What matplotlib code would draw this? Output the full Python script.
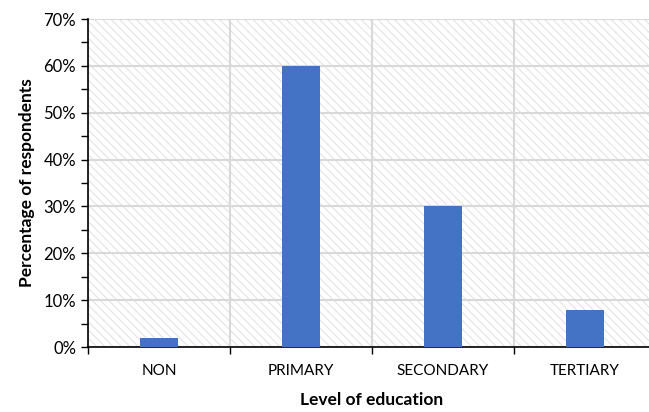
import matplotlib.pyplot as plt
from matplotlib.patches import Rectangle
from matplotlib.ticker import MultipleLocator, PercentFormatter

categories = ["NON", "PRIMARY", "SECONDARY", "TERTIARY"]
percent = [2, 60, 30, 8]

plt.rcParams['font.family'] = ['Lato', 'DejaVu Sans']
plt.rcParams['hatch.linewidth'] = 0.7

fig = plt.figure(figsize=(6.49, 4.12), dpi=100)
ax = fig.add_axes([88/649, 65/412, 568/649, 328/412])

# hatched background like the Excel chart area
bg = Rectangle((0, 0), 1, 1, transform=ax.transAxes, facecolor='white',
               edgecolor='#e0e0e0', hatch='\\\\\\\\', linewidth=0, zorder=0)
ax.add_patch(bg)

x = range(len(categories))
ax.bar(x, percent, width=0.27, color='#4472c4', zorder=3)

ax.set_xlim(-0.5, len(categories) - 0.5)
ax.set_ylim(0, 70)
ax.yaxis.set_major_locator(MultipleLocator(10))
ax.yaxis.set_minor_locator(MultipleLocator(5))
ax.yaxis.set_major_formatter(PercentFormatter(decimals=0))

ax.set_xticks(list(x))
ax.set_xticklabels(categories)
ax.set_xticks([i + 0.5 for i in range(-1, len(categories))], minor=True)
ax.tick_params(axis='x', which='major', length=0, pad=12, labelsize=11)
ax.tick_params(axis='x', which='minor', length=5, width=1, direction='out')
ax.tick_params(axis='y', which='both', length=5, width=1, direction='out', labelsize=12)

ax.grid(axis='y', which='major', color='#d9d9d9', linewidth=1.5, zorder=1)
ax.grid(axis='x', which='minor', color='#d9d9d9', linewidth=1.5, zorder=1)
ax.set_axisbelow(True)

for s in ['top', 'right']:
    ax.spines[s].set_visible(False)
ax.spines['left'].set_linewidth(1.2)
ax.spines['bottom'].set_linewidth(1.2)

ax.set_xlabel("Level of education", fontsize=12.5, fontweight='bold', labelpad=10)
ax.set_ylabel("Percentage of respondents", fontsize=12.5, fontweight='bold', labelpad=6)

fig.savefig("out.png", dpi=100)
